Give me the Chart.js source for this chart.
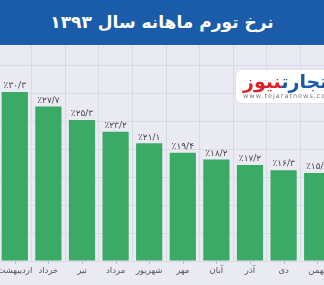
<!DOCTYPE html>
<html>
<head>
<meta charset="utf-8">
<script src="https://cdn.jsdelivr.net/npm/chart.js@4.4.1/dist/chart.umd.min.js"></script>
<style>
  html, body { margin:0; padding:0; width:324px; height:285px; overflow:hidden; background:#e9eaf2; font-family:"DejaVu Sans", sans-serif; }
  #wrap { position:absolute; left:-2px; top:0; width:336px; height:285px; }
  #banner { position:absolute; left:0; top:0; width:324px; height:45px; background:#1a5ca9; color:#fff; z-index:2;
    font-weight:bold; font-size:17px; line-height:44px; text-align:center; direction:rtl; }
  #logo { position:absolute; left:236px; top:70px; width:100px; height:33px; background:#fff; border-radius:6px; z-index:2;
    box-shadow:0 0 2px rgba(0,0,0,0.12); overflow:hidden; }
  #logo .t { position:absolute; left:7px; top:0px; font-size:19px; font-weight:bold; direction:rtl; white-space:nowrap; line-height:22px; }
  #logo .u { position:absolute; left:7px; top:22px; font-size:6.5px; color:#777; letter-spacing:1px; white-space:nowrap; }
</style>
</head>
<body>
<div id="banner">نرخ تورم ماهانه سال ۱۳۹۳</div>
<div id="logo"><div class="t"><span style="color:#1b5aa6">تجارت</span><span style="color:#d8232a">نیوز</span></div><div class="u">www.tejaratnews.com</div></div>
<div id="wrap"><canvas id="c" width="336" height="285"></canvas></div>
<script>
const categories = ["اردیبهشت","خرداد","تیر","مرداد","شهریور","مهر","آبان","آذر","دی","بهمن"];
const inflation = [30.3, 27.7, 25.3, 23.2, 21.1, 19.4, 18.2, 17.2, 16.3, 15.8];
const valueLabels = ["٪۳۰/۳","٪۲۷/۷","٪۲۵/۳","٪۲۳/۲","٪۲۱/۱","٪۱۹/۴","٪۱۸/۲","٪۱۷/۲","٪۱۶/۳","٪۱۵/۸"];

const labelPlugin = {
  id: 'valueLabels',
  afterDatasetsDraw(chart) {
    const ctx = chart.ctx;
    const meta = chart.getDatasetMeta(0);
    ctx.save();
    ctx.font = '9px "DejaVu Sans"';
    ctx.fillStyle = '#4a4a4a';
    ctx.textAlign = 'center';
    ctx.textBaseline = 'middle';
    ctx.direction = 'ltr';
    meta.data.forEach((el, i) => {
      ctx.fillText(valueLabels[i], el.x, el.y - 6);
    });
    const xs = chart.scales.x;
    const yb = chart.chartArea.bottom;
    ctx.strokeStyle = '#b9bac4';
    ctx.lineWidth = 1;
    categories.forEach((c, i) => {
      const px = Math.round(xs.getPixelForValue(i)) + 0.5;
      ctx.beginPath();
      ctx.moveTo(px, yb);
      ctx.lineTo(px, yb + 3);
      ctx.stroke();
    });
    ctx.restore();
  }
};

new Chart(document.getElementById('c'), {
  type: 'bar',
  data: {
    labels: categories,
    datasets: [{
      data: inflation,
      backgroundColor: '#3aaa66',
      borderWidth: 0,
      barPercentage: 0.78,
      categoryPercentage: 1.0
    }]
  },
  options: {
    responsive: false,
    animation: false,
    devicePixelRatio: 1,
    layout: { padding: { top: 38, left: 0, right: 0, bottom: 0 } },
    plugins: { legend: { display: false }, title: { display: false }, tooltip: { enabled: false } },
    scales: {
      x: {
        grid: { color: '#d9dae5', offset: true, drawTicks: false },
        border: { display: false },
        ticks: { color: '#555', font: { family: 'DejaVu Sans', size: 8.5 }, maxRotation: 0, minRotation: 0, autoSkip: false, padding: 5 },
        afterFit(s) { s.height = 24; s.paddingLeft = 0; s.paddingRight = 0; }
      },
      y: {
        min: 0, max: 40,
        grid: { color: '#d9dae5', drawTicks: false },
        border: { display: false },
        ticks: { display: false, stepSize: 5 },
        afterFit(s) { s.width = 0; s.paddingTop = 0; s.paddingBottom = 0; }
      }
    }
  },
  plugins: [labelPlugin]
});
</script>
</body>
</html>
